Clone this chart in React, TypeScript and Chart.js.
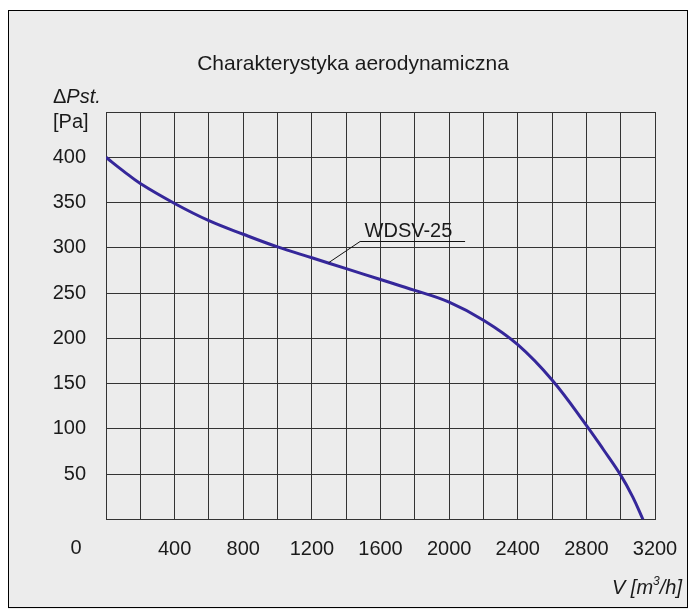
import React, { useEffect, useRef } from "react";
import { Chart, registerables } from "chart.js";

Chart.register(...registerables);

const flowValues = [0, 100, 200, 400, 600, 800, 1000, 1200, 1400, 1600, 1800, 2000, 2200, 2400, 2600, 2800, 2900, 3000, 3070, 3130];
const pressureValues = [400, 385, 371, 349, 330, 315, 301, 289, 277, 265, 253, 240, 220, 193, 154, 104, 77, 49, 25, 0];
const xLabelTicks = [400, 800, 1200, 1600, 2000, 2400, 2800, 3200];
const yLabelTicks = [50, 100, 150, 200, 250, 300, 350, 400];
const seriesName = "WDSV-25";
const titleText = "Charakterystyka aerodynamiczna";
// leader line anchors (data coordinates)
const leaderStart = { x: 1297, y: 283.5 };
const leaderKnee = { x: 1481, y: 307 };
const leaderEnd = { x: 2093, y: 307 };
const labelAnchor = { x: 1763, y: 312.5 };

const FONT = "'Liberation Sans', Arial, Helvetica, sans-serif";

const decorPlugin = {
  id: "decor",
  beforeDraw(chart: any) {
    const { ctx, width, height } = chart;
    ctx.save();
    ctx.fillStyle = "#ffffff";
    ctx.fillRect(0, 0, width, height);
    ctx.fillStyle = "#ececec";
    ctx.fillRect(0, 2, width, height - 2);
    ctx.strokeStyle = "#000";
    ctx.lineWidth = 1;
    ctx.strokeRect(0.5, 2.5, width - 1, height - 4);
    ctx.restore();
  },
  afterDraw(chart: any) {
    const { ctx } = chart;
    const xs = chart.scales.x;
    const ys = chart.scales.y;
    ctx.save();
    ctx.fillStyle = "#1a1a1a";
    // title
    ctx.font = `21px ${FONT}`;
    ctx.textAlign = "center";
    ctx.textBaseline = "alphabetic";
    ctx.fillText(titleText, 345, 62);
    // axis origin label
    ctx.font = `20px ${FONT}`;
    ctx.textBaseline = "middle";
    ctx.fillText("0", 68, 540);
    // y axis title
    ctx.textAlign = "left";
    ctx.font = `20px ${FONT}`;
    ctx.fillText("\u0394", 45, 89);
    const dw = ctx.measureText("\u0394").width;
    ctx.font = `italic 20px ${FONT}`;
    ctx.fillText("Pst.", 45 + dw, 89);
    ctx.font = `20px ${FONT}`;
    ctx.fillText("[Pa]", 45, 114);
    // x axis title: V [m3/h]
    ctx.font = `italic 20px ${FONT}`;
    const p1 = "V [m";
    const p3 = "/h]";
    const w1 = ctx.measureText(p1).width;
    const w3 = ctx.measureText(p3).width;
    ctx.font = `italic 12px ${FONT}`;
    const w2 = ctx.measureText("3").width;
    const right = 674;
    const sx = right - (w1 + w2 + w3);
    const by = 586;
    ctx.textBaseline = "alphabetic";
    ctx.font = `italic 20px ${FONT}`;
    ctx.fillText(p1, sx, by);
    ctx.font = `italic 12px ${FONT}`;
    ctx.fillText("3", sx + w1, by - 9);
    ctx.font = `italic 20px ${FONT}`;
    ctx.fillText(p3, sx + w1 + w2, by);
    // leader line and series label
    ctx.strokeStyle = "#111";
    ctx.lineWidth = 1;
    ctx.beginPath();
    ctx.moveTo(xs.getPixelForValue(leaderStart.x), ys.getPixelForValue(leaderStart.y));
    ctx.lineTo(xs.getPixelForValue(leaderKnee.x), Math.round(ys.getPixelForValue(leaderKnee.y)) + 0.5);
    ctx.lineTo(xs.getPixelForValue(leaderEnd.x), Math.round(ys.getPixelForValue(leaderEnd.y)) + 0.5);
    ctx.stroke();
    ctx.font = `20px ${FONT}`;
    ctx.textAlign = "center";
    ctx.fillText(seriesName, xs.getPixelForValue(labelAnchor.x), ys.getPixelForValue(labelAnchor.y));
    ctx.restore();
  },
};

export default function App() {
  const ref = useRef<HTMLCanvasElement | null>(null);
  useEffect(() => {
    if (!ref.current) return;
    const chart = new Chart(ref.current, {
      type: "line",
      data: {
        datasets: [
          {
            label: seriesName,
            data: flowValues.map((v, i) => ({ x: v, y: pressureValues[i] })),
            borderColor: "#35279a",
            borderWidth: 3,
            pointRadius: 0,
            tension: 0.4,
            fill: false,
          },
        ],
      },
      options: {
        responsive: false,
        animation: false,
        layout: { padding: { top: 104, right: 33, left: 0, bottom: 0 } },
        plugins: { legend: { display: false }, tooltip: { enabled: false }, title: { display: false } },
        scales: {
          x: {
            type: "linear",
            min: 0,
            max: 3200,
            afterFit: (s: any) => {
              s.height = 89.5;
              s.paddingLeft = 0;
              s.paddingRight = 0;
            },
            ticks: {
              stepSize: 200,
              autoSkip: false,
              maxRotation: 0,
              padding: 18,
              color: "#1a1a1a",
              font: { family: FONT, size: 20 },
              callback: (v: any) => (xLabelTicks.includes(Number(v)) ? String(v) : ""),
            },
            grid: { color: "#333", lineWidth: 1, drawTicks: false },
            border: { display: true, color: "#333" },
          },
          y: {
            type: "linear",
            min: 0,
            max: 450,
            afterFit: (s: any) => {
              s.width = 98;
              s.paddingTop = 0;
              s.paddingBottom = 0;
            },
            ticks: {
              stepSize: 50,
              autoSkip: false,
              padding: 20,
              color: "#1a1a1a",
              font: { family: FONT, size: 20 },
              callback: (v: any) => (yLabelTicks.includes(Number(v)) ? String(v) : ""),
            },
            grid: { color: "#333", lineWidth: 1, drawTicks: false },
            border: { display: true, color: "#333" },
          },
        },
      },
      plugins: [decorPlugin],
    });
    return () => chart.destroy();
  }, []);
  return (
    <div style={{ position: "fixed", left: 8, top: 8, width: 680, height: 601 }}>
      <canvas ref={ref} width={680} height={601} style={{ display: "block", width: 680, height: 601 }} />
    </div>
  );
}
